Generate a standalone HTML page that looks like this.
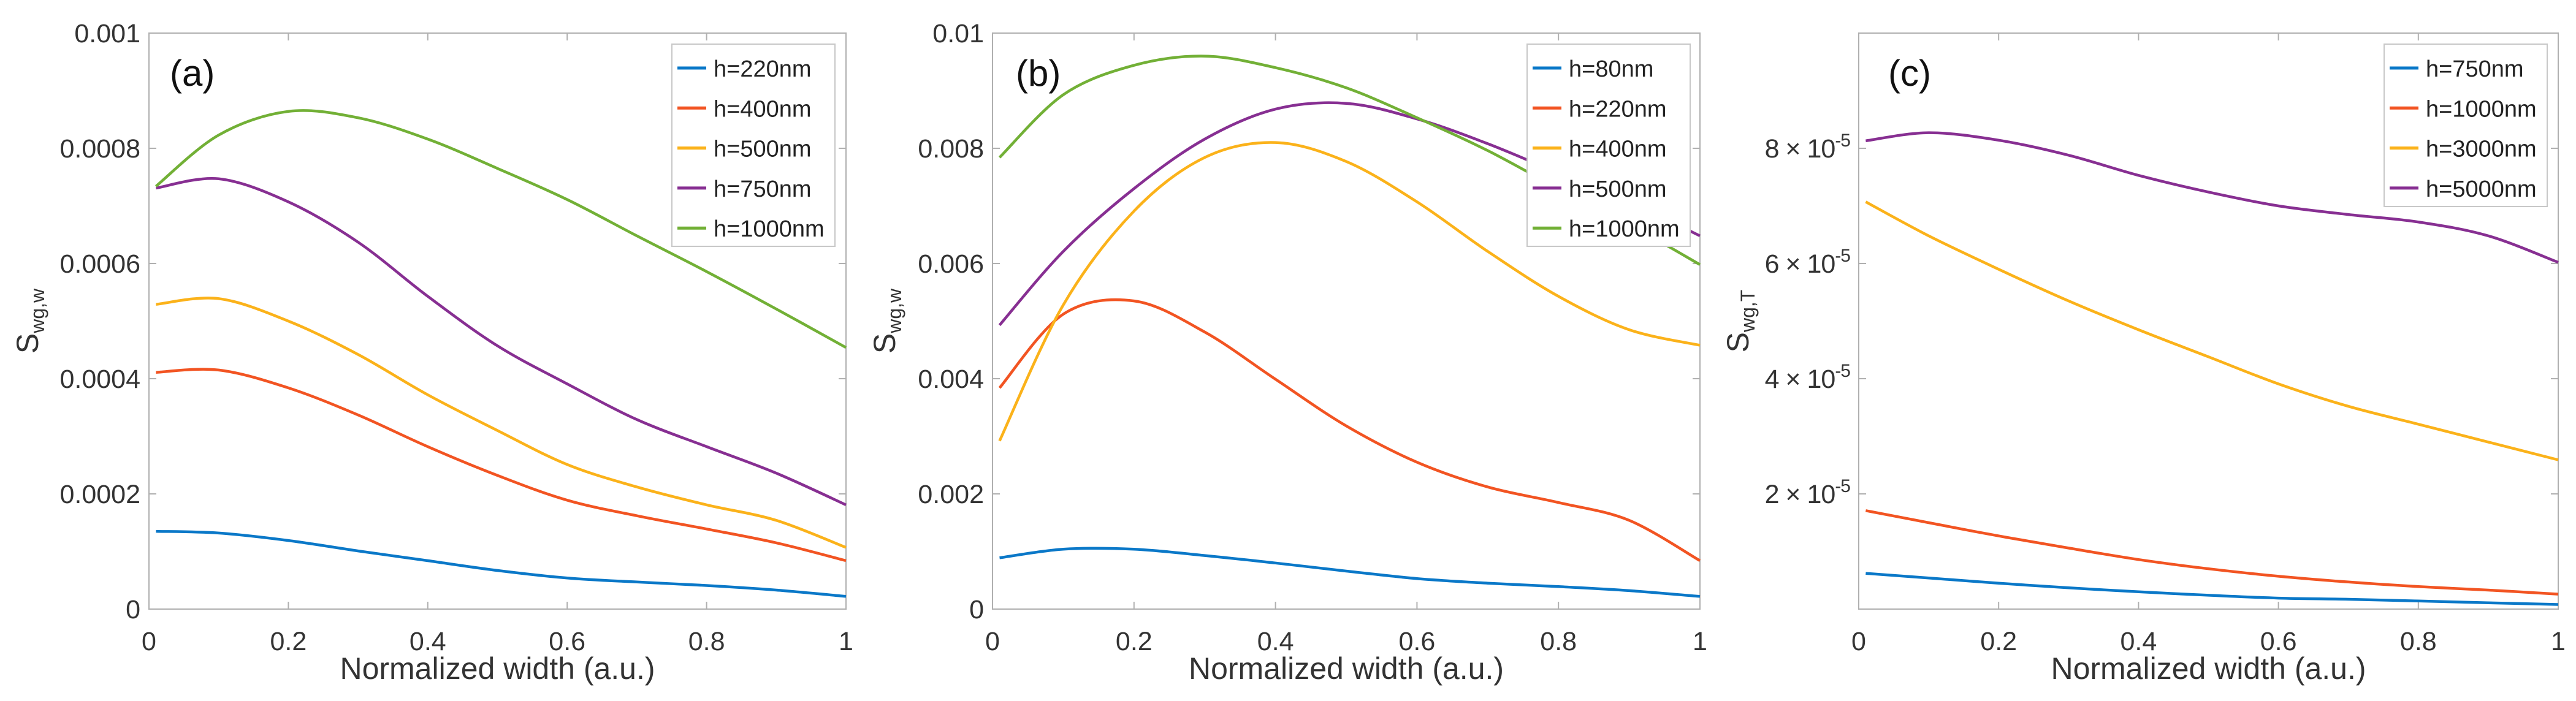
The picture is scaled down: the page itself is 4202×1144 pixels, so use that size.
<!DOCTYPE html>
<html><head><meta charset="utf-8"><style>
html,body{margin:0;padding:0;background:#fff;}
svg{display:block;font-family:"Liberation Sans",sans-serif;}
</style></head><body>
<svg id="fig" width="4202" height="1144" viewBox="0 0 4202 1144" xmlns="http://www.w3.org/2000/svg"></svg>
<script>
const xGrid = [0.01,0.1,0.2,0.3,0.4,0.5,0.6,0.7,0.8,0.9,1.0];
const xTickLabels = ["0","0.2","0.4","0.6","0.8","1"];
const colors = ["#0a78c8","#f25422","#fbb21a","#872f92","#72b036"];

const aNames = ["h=220nm","h=400nm","h=500nm","h=750nm","h=1000nm"];
const aS220 = [0.135,0.132,0.119,0.101,0.084,0.067,0.054,0.047,0.041,0.033,0.022];
const aS400 = [0.411,0.415,0.384,0.337,0.282,0.232,0.189,0.162,0.139,0.115,0.084];
const aS500 = [0.529,0.539,0.500,0.442,0.372,0.310,0.251,0.212,0.181,0.154,0.107];
const aS750 = [0.731,0.747,0.707,0.637,0.543,0.457,0.391,0.329,0.282,0.236,0.181];
const aS1000 = [0.734,0.823,0.864,0.853,0.816,0.765,0.711,0.648,0.586,0.521,0.454];
const aYTicks = ["0","0.0002","0.0004","0.0006","0.0008","0.001"];

const bNames = ["h=80nm","h=220nm","h=400nm","h=500nm","h=1000nm"];
const bS80 = [0.89,1.04,1.04,0.93,0.80,0.66,0.53,0.45,0.39,0.32,0.22];
const bS220 = [3.84,5.12,5.35,4.81,3.99,3.18,2.55,2.12,1.85,1.54,0.84];
const bS400 = [2.92,5.28,6.91,7.84,8.10,7.77,7.07,6.21,5.43,4.85,4.58];
const bS500 = [4.93,6.21,7.30,8.16,8.68,8.78,8.51,8.08,7.57,7.07,6.48];
const bS1000 = [7.84,8.93,9.44,9.60,9.40,9.05,8.53,7.96,7.30,6.68,5.98];
const bYTicks = ["0","0.002","0.004","0.006","0.008","0.01"];

const cNames = ["h=750nm","h=1000nm","h=3000nm","h=5000nm"];
const cS750 = [0.62,0.54,0.45,0.37,0.30,0.24,0.19,0.17,0.14,0.11,0.08];
const cS1000 = [1.71,1.50,1.27,1.06,0.86,0.70,0.57,0.47,0.39,0.33,0.26];
const cS3000 = [7.07,6.48,5.90,5.35,4.85,4.38,3.91,3.52,3.21,2.90,2.59];
const cS5000 = [8.13,8.27,8.14,7.88,7.53,7.24,7.00,6.85,6.72,6.48,6.02];
const cYTickValues = [2,4,6,8];

const NS="http://www.w3.org/2000/svg";
const svg=document.getElementById('fig');
function mk(tag,attrs,parent){const e=document.createElementNS(NS,tag);for(const k in attrs)e.setAttribute(k,attrs[k]);(parent||svg).appendChild(e);return e;}

function smoothPath(pts){
  let d="M"+pts[0][0].toFixed(1)+","+pts[0][1].toFixed(1);
  for(let i=0;i<pts.length-1;i++){
    const p0=pts[Math.max(0,i-1)],p1=pts[i],p2=pts[i+1],p3=pts[Math.min(pts.length-1,i+2)];
    const c1=[p1[0]+(p2[0]-p0[0])/6,p1[1]+(p2[1]-p0[1])/6];
    const c2=[p2[0]-(p3[0]-p1[0])/6,p2[1]-(p3[1]-p1[1])/6];
    d+=" C"+c1[0].toFixed(1)+","+c1[1].toFixed(1)+" "+c2[0].toFixed(1)+","+c2[1].toFixed(1)+" "+p2[0].toFixed(1)+","+p2[1].toFixed(1);
  }
  return d;
}

function panel(cfg){
  const g=mk('g',{});
  
  
  const L=cfg.left,R=cfg.right,T=54,B=994;
  const sx=v=>L+(R-L)*v;
  const sy=v=>B-(B-T)*v/cfg.ymax;
  const box=mk('rect',{x:L,y:T,width:R-L,height:B-T,fill:'none',stroke:'#b0b0b0','stroke-width':2},g);
  
  
  xTickLabels.forEach((lab,i)=>{
    const v=i*0.2,x=sx(v);
    mk('line',{x1:x,y1:B,x2:x,y2:B-12,stroke:'#b0b0b0','stroke-width':2},g);
    mk('line',{x1:x,y1:T,x2:x,y2:T+12,stroke:'#b0b0b0','stroke-width':2},g);
    const t=mk('text',{x:x,y:1061,'font-size':43,'text-anchor':'middle',fill:'#333'},g);
    t.textContent=lab;
    
    
  });
  cfg.yticks.forEach(tk=>{
    const y=sy(tk.v);
    mk('line',{x1:L,y1:y,x2:L+12,y2:y,stroke:'#b0b0b0','stroke-width':2},g);
    mk('line',{x1:R,y1:y,x2:R-12,y2:y,stroke:'#b0b0b0','stroke-width':2},g);
    const t=mk('text',{x:L-14,y:y+15,'font-size':43,'text-anchor':'end',fill:'#333'},g);
    
    
    if(tk.sci){
      t.textContent=tk.label+" \u00D7 10";
      t.setAttribute('letter-spacing','-1');
      const s=mk('tspan',{'font-size':30,dy:-18},t);s.textContent="-5";
    } else t.textContent=tk.label;
  });
  cfg.series.forEach((s,si)=>{
    const pts=xGrid.map((x,i)=>[sx(x),sy(s[i])]);
    const p=mk('path',{d:smoothPath(pts),fill:'none',stroke:colors[si],'stroke-width':4.5,'stroke-linejoin':'round'},g);
    
    
  });
  const xl=mk('text',{x:(L+R)/2,y:1108,'font-size':50,'text-anchor':'middle',fill:'#333'},g);
  xl.textContent="Normalized width (a.u.)";
  
  
  const yl=mk('text',{transform:'translate('+(cfg.ylabX)+',524) rotate(-90)','font-size':50,'text-anchor':'middle',fill:'#333'},g);
  
  
  yl.textContent="S";
  const sub=mk('tspan',{'font-size':32,dy:10},yl);sub.textContent=cfg.ysub;
  const pl=mk('text',{x:cfg.labX,y:140,'font-size':60,fill:'#111'},g);
  pl.textContent=cfg.label;
  
  
  const lg=mk('g',{},g);
  
  
  const n=cfg.names.length;
  const lh=n*65+5;
  mk('rect',{x:cfg.legX,y:72,width:cfg.legW,height:lh,fill:'#fff',stroke:'#c8c8c8','stroke-width':2},lg);
  cfg.names.forEach((nm,i)=>{
    const y=111+i*65.3;
    mk('line',{x1:cfg.legX+9,y1:y,x2:cfg.legX+56,y2:y,stroke:colors[i],'stroke-width':5},lg);
    const t=mk('text',{x:cfg.legX+68,y:y+14,'font-size':38,fill:'#222'},lg);
    t.textContent=nm;
    
    
  });
}

panel({id:'panel-a',left:243,right:1380,ymax:1.0,
  yticks:aYTicks.map((l,i)=>({v:i*0.2,label:l})),
  series:[aS220,aS400,aS500,aS750,aS1000],names:aNames,
  ylabX:62,ysub:"wg,w",label:"(a)",labX:277,legX:1096,legW:266});
panel({id:'panel-b',left:1619,right:2773,ymax:10,
  yticks:bYTicks.map((l,i)=>({v:i*2,label:l})),
  series:[bS80,bS220,bS400,bS500,bS1000],names:bNames,
  ylabX:1460,ysub:"wg,w",label:"(b)",labX:1657,legX:2491,legW:266});
panel({id:'panel-c',left:3032,right:4173,ymax:10,
  yticks:cYTickValues.map(v=>({v:v,label:String(v),sci:true})),
  series:[cS750,cS1000,cS3000,cS5000],names:cNames,
  ylabX:2852,ysub:"wg,T",label:"(c)",labX:3080,legX:3889,legW:266});
</script>
</body></html>
